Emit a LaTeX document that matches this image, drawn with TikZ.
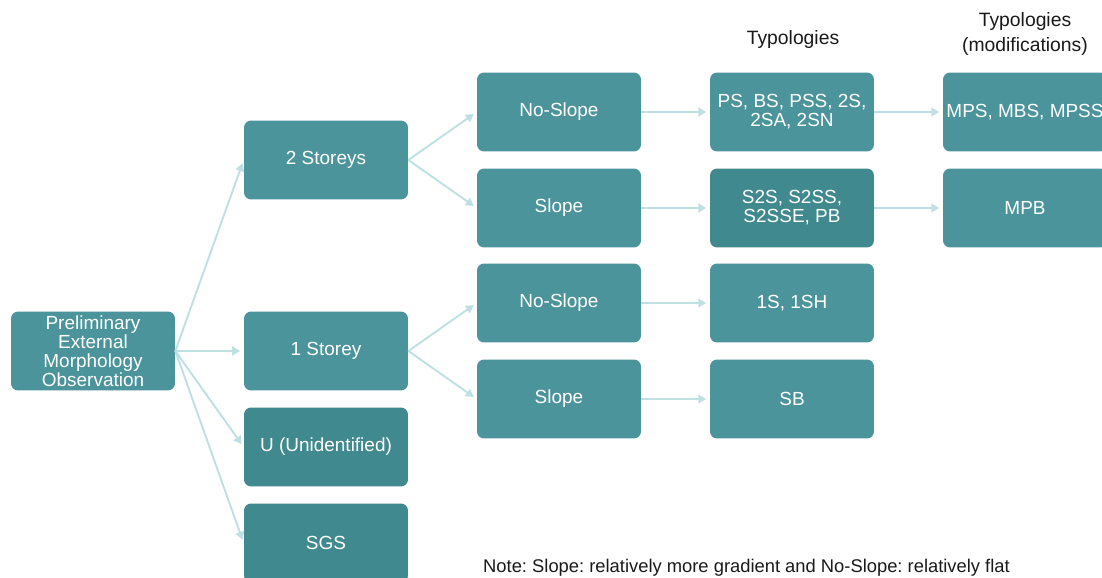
\documentclass[tikz,border=0pt]{standalone}
\usepackage{fontspec}
\setmainfont{Liberation Sans}
\usepackage{xcolor}
\usetikzlibrary{positioning,arrows.meta}
\frenchspacing

\definecolor{boxteal}{RGB}{75,148,155}
\definecolor{boxdark}{RGB}{64,137,142}
\definecolor{arrowteal}{RGB}{190,224,227}
\definecolor{headgray}{RGB}{25,25,25}

\begin{document}
\begin{tikzpicture}[x=0.02cm,y=-0.02cm,
    box/.style={fill=boxteal, rounded corners=4pt, text=white, align=center,
        minimum width=3.28cm, minimum height=1.58cm, inner sep=1pt,
        font=\fontsize{10.8}{10.8}\selectfont},
    darkbox/.style={box, fill=boxdark},
    link/.style={arrowteal, line width=1.1pt, shorten >=2pt,
        -{Triangle[length=4.5pt,width=5pt]}},
    head/.style={text=headgray, align=center, font=\fontsize{11}{14.2}\selectfont}]
    \useasboundingbox (0,0) rectangle (1102,578);
    \clip (0,0) rectangle (1102,578);

    % first split
    \node[box] (prelim) at (93,351) {Preliminary\\External\\Morphology\\Observation};
    \node[box] (twostorey) at (326,160) {2 Storeys};
    \node[box] (onestorey) at (326,351) {1 Storey};
    \node[darkbox] (unident) at (326,447) {U (Unidentified)};
    \node[darkbox] (sgs) at (326,543) {SGS};

    % slope / no-slope
    \node[box] (noslopeA) at (559,112) {No-Slope};
    \node[box] (slopeA) at (559,208) {Slope};
    \node[box] (noslopeB) at (559,303) {No-Slope};
    \node[box] (slopeB) at (559,399) {Slope};

    % typologies
    \node[box] (typA) at (792,112) {PS, BS, PSS, 2S,\\2SA, 2SN};
    \node[darkbox] (typB) at (792,208) {S2S, S2SS,\\S2SSE, PB};
    \node[box] (typC) at (792,303) {1S, 1SH};
    \node[box] (typD) at (792,399) {SB};

    % modified typologies
    \node[box] (modA) at (1025,112) {MPS, MBS, MPSS};
    \node[box] (modB) at (1025,208) {MPB};

    \node[head] (typhead) at (793,40) {Typologies};
    \node[head] (modhead) at (1025,34) {Typologies\\(modifications)};

    \foreach \t in {twostorey,onestorey,unident,sgs}
        \draw[link] (prelim.east) -- (\t.west);
    \draw[link] (twostorey.east) -- (noslopeA.west);
    \draw[link] (twostorey.east) -- (slopeA.west);
    \draw[link] (onestorey.east) -- (noslopeB.west);
    \draw[link] (onestorey.east) -- (slopeB.west);
    \draw[link] (noslopeA) -- (typA);
    \draw[link] (slopeA) -- (typB);
    \draw[link] (noslopeB) -- (typC);
    \draw[link] (slopeB) -- (typD);
    \draw[link] (typA) -- (modA);
    \draw[link] (typB) -- (modB);

    \node[anchor=west, text=headgray, font=\fontsize{10.45}{12}\selectfont] (note) at (477,568)
        {Note: Slope: relatively more gradient and No-Slope: relatively flat};
\end{tikzpicture}
\end{document}
